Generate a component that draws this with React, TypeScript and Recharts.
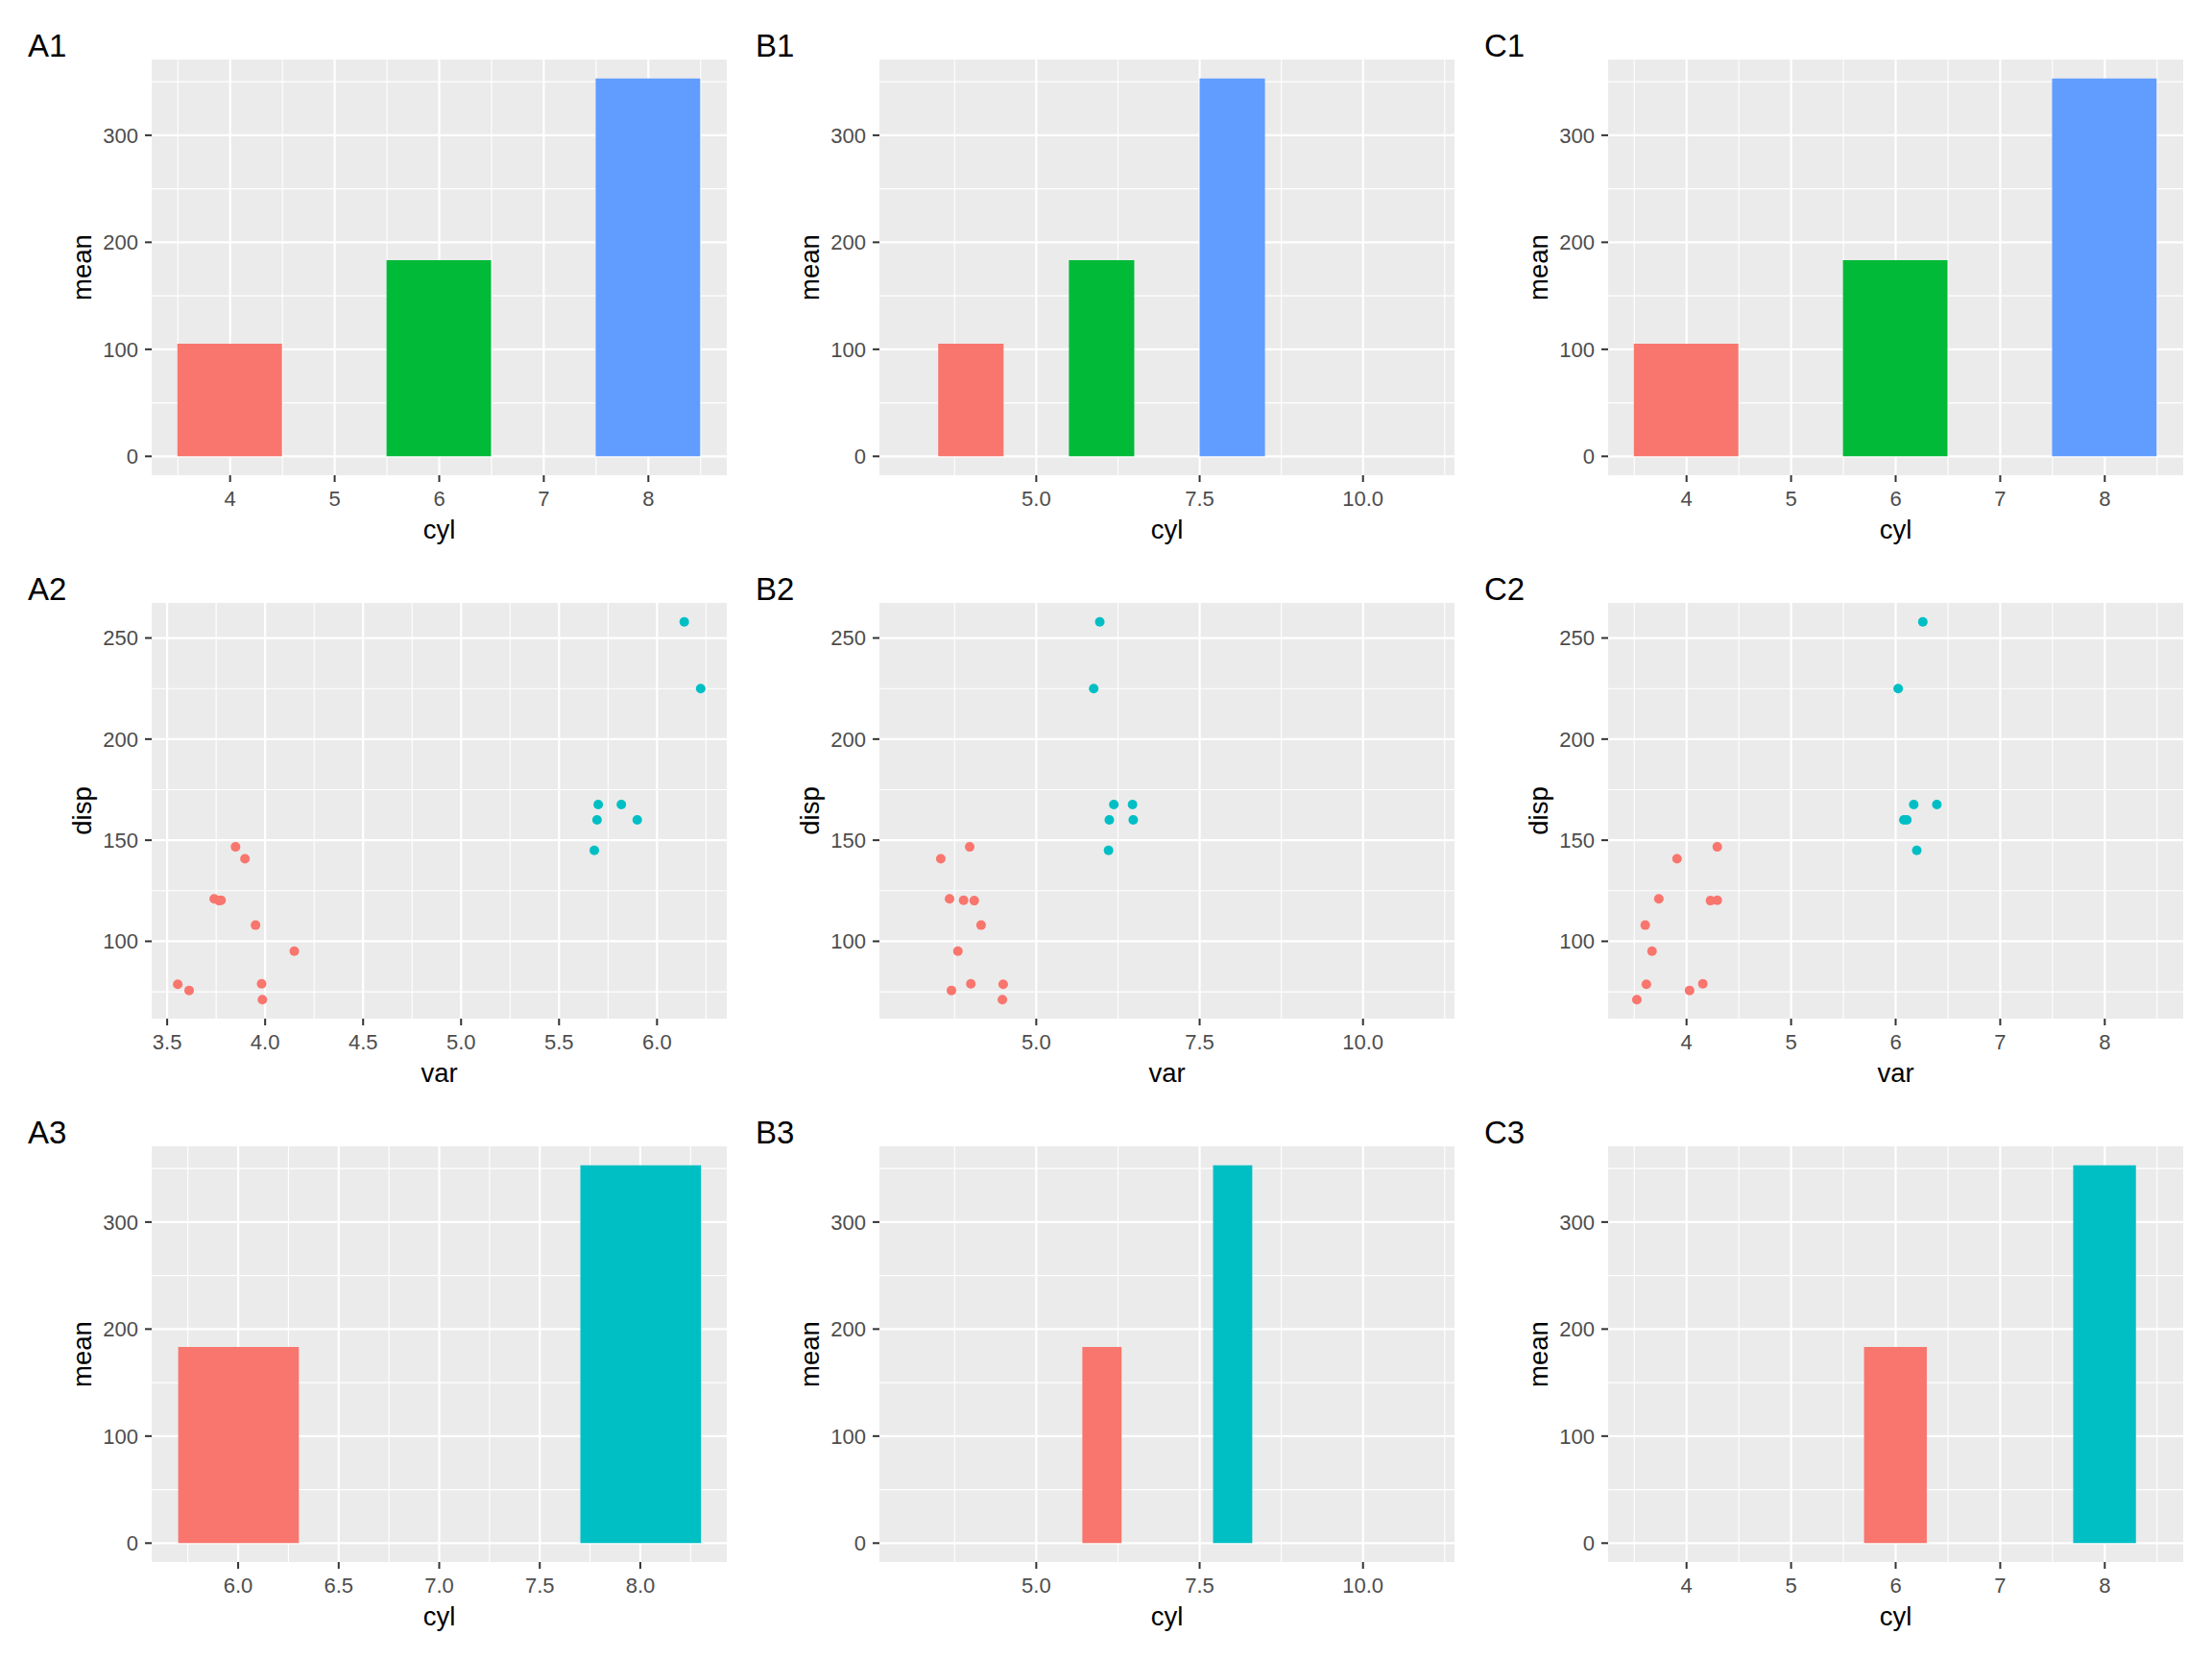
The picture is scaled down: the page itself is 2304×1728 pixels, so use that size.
import React from 'react';
import { ComposedChart, ScatterChart, Bar, Scatter, Cell, XAxis, YAxis, CartesianGrid } from 'recharts';

// mean disp by cyl (mtcars)
const cylAll = [4, 6, 8];
const meanAll = [105.14, 183.31, 353.1];
const cylSub = [6, 8];
const meanSub = [183.31, 353.1];

// disp values of the 4- and 6-cylinder cars
const disp4 = [146.7, 140.8, 121.0, 120.3, 120.1, 108.0, 95.1, 78.7, 79.0, 75.7, 71.1];
const disp6 = [167.6, 167.6, 160.0, 160.0, 145.0, 258.0, 225.0];

// jittered "var" for each panel, same order as disp4 / disp6
const varA4 = [3.849, 3.897, 3.740, 3.775, 3.765, 3.951, 4.149, 3.554, 3.982, 3.612, 3.986];
const varA6 = [5.700, 5.818, 5.694, 5.899, 5.680, 6.139, 6.223];
const varB4 = [3.981, 3.539, 3.673, 3.888, 4.051, 4.156, 3.801, 4.494, 3.999, 3.702, 4.482];
const varB6 = [6.187, 6.473, 6.118, 6.484, 6.106, 5.972, 5.879];
const varC4 = [4.294, 3.909, 3.735, 4.294, 4.229, 3.605, 3.670, 3.616, 4.156, 4.029, 3.525];
const varC6 = [6.173, 6.394, 6.078, 6.107, 6.202, 6.260, 6.024];

// ticks
const ticksCylInt = [4, 5, 6, 7, 8];
const minorCylInt = [3.5, 4.5, 5.5, 6.5, 7.5, 8.5];
const ticksWide = [5, 7.5, 10];
const minorWide = [3.75, 6.25, 8.75, 11.25];
const ticksVarA = [3.5, 4, 4.5, 5, 5.5, 6];
const minorVarA = [3.75, 4.25, 4.75, 5.25, 5.75, 6.25];
const ticksCylA3 = [6, 6.5, 7, 7.5, 8];
const minorCylA3 = [5.75, 6.25, 6.75, 7.25, 7.75, 8.25];
const ticksMean = [0, 100, 200, 300];
const minorMean = [50, 150, 250, 350];
const ticksDisp = [100, 150, 200, 250];
const minorDisp = [75, 125, 175, 225];

const RED = '#F8766D';
const GREEN = '#00BA38';
const BLUE = '#619CFF';
const TEAL = '#00BFC4';
const FONT = '"Liberation Sans", Arial, Helvetica, sans-serif';

const COL_X = [158, 916, 1675];
const ROW_Y = [62, 628, 1194];
const PANEL_W = 599;
const PANEL_H = 433;
const Y_AXIS_W = 60;
const X_AXIS_H = 50;

const meanDomain = [-17.655, 370.755];
const dispDomain = [61.755, 267.345];
const wideDomain = [2.6, 11.4];
const intDomain = [3.25, 8.75];

const one = (v: number) => v.toFixed(1);
const plain = (v: number) => String(v);

const pts = (xs: number[], ys: number[]) => xs.map((x, i) => ({ x, y: ys[i] }));

type PanelDef = {
  tag: string;
  col: number;
  row: number;
  kind: 'bar' | 'scatter';
  xDomain: number[];
  xTicks: number[];
  xMinor: number[];
  xFmt: (v: number) => string;
  yDomain: number[];
  yTicks: number[];
  yMinor: number[];
  xLabel: string;
  yLabel: string;
  cyl?: number[];
  mean?: number[];
  colors?: string[];
  barWidth?: number;
  x4?: number[];
  x6?: number[];
};

const panels: PanelDef[] = [
  { tag: 'A1', col: 0, row: 0, kind: 'bar', xDomain: intDomain, xTicks: ticksCylInt, xMinor: minorCylInt, xFmt: plain,
    yDomain: meanDomain, yTicks: ticksMean, yMinor: minorMean, xLabel: 'cyl', yLabel: 'mean',
    cyl: cylAll, mean: meanAll, colors: [RED, GREEN, BLUE], barWidth: 1 },
  { tag: 'B1', col: 1, row: 0, kind: 'bar', xDomain: wideDomain, xTicks: ticksWide, xMinor: minorWide, xFmt: one,
    yDomain: meanDomain, yTicks: ticksMean, yMinor: minorMean, xLabel: 'cyl', yLabel: 'mean',
    cyl: cylAll, mean: meanAll, colors: [RED, GREEN, BLUE], barWidth: 1 },
  { tag: 'C1', col: 2, row: 0, kind: 'bar', xDomain: intDomain, xTicks: ticksCylInt, xMinor: minorCylInt, xFmt: plain,
    yDomain: meanDomain, yTicks: ticksMean, yMinor: minorMean, xLabel: 'cyl', yLabel: 'mean',
    cyl: cylAll, mean: meanAll, colors: [RED, GREEN, BLUE], barWidth: 1 },
  { tag: 'A2', col: 0, row: 1, kind: 'scatter', xDomain: [3.421, 6.356], xTicks: ticksVarA, xMinor: minorVarA, xFmt: one,
    yDomain: dispDomain, yTicks: ticksDisp, yMinor: minorDisp, xLabel: 'var', yLabel: 'disp', x4: varA4, x6: varA6 },
  { tag: 'B2', col: 1, row: 1, kind: 'scatter', xDomain: wideDomain, xTicks: ticksWide, xMinor: minorWide, xFmt: one,
    yDomain: dispDomain, yTicks: ticksDisp, yMinor: minorDisp, xLabel: 'var', yLabel: 'disp', x4: varB4, x6: varB6 },
  { tag: 'C2', col: 2, row: 1, kind: 'scatter', xDomain: intDomain, xTicks: ticksCylInt, xMinor: minorCylInt, xFmt: plain,
    yDomain: dispDomain, yTicks: ticksDisp, yMinor: minorDisp, xLabel: 'var', yLabel: 'disp', x4: varC4, x6: varC6 },
  { tag: 'A3', col: 0, row: 2, kind: 'bar', xDomain: [5.57, 8.43], xTicks: ticksCylA3, xMinor: minorCylA3, xFmt: one,
    yDomain: meanDomain, yTicks: ticksMean, yMinor: minorMean, xLabel: 'cyl', yLabel: 'mean',
    cyl: cylSub, mean: meanSub, colors: [RED, TEAL], barWidth: 0.6 },
  { tag: 'B3', col: 1, row: 2, kind: 'bar', xDomain: wideDomain, xTicks: ticksWide, xMinor: minorWide, xFmt: one,
    yDomain: meanDomain, yTicks: ticksMean, yMinor: minorMean, xLabel: 'cyl', yLabel: 'mean',
    cyl: cylSub, mean: meanSub, colors: [RED, TEAL], barWidth: 0.6 },
  { tag: 'C3', col: 2, row: 2, kind: 'bar', xDomain: intDomain, xTicks: ticksCylInt, xMinor: minorCylInt, xFmt: plain,
    yDomain: meanDomain, yTicks: ticksMean, yMinor: minorMean, xLabel: 'cyl', yLabel: 'mean',
    cyl: cylSub, mean: meanSub, colors: [RED, TEAL], barWidth: 0.6 },
];

const tickStyle = { fill: '#4D4D4D', fontSize: 22, fontFamily: FONT };
const tickLine = { stroke: '#333333', strokeWidth: 2 };

const Dot = (color: string) => (p: any) => <circle cx={p.cx} cy={p.cy} r={5} fill={color} />;

function Panel({ d }: { d: PanelDef }) {
  const w = Y_AXIS_W + PANEL_W;
  const h = PANEL_H + X_AXIS_H;
  const style: React.CSSProperties = {
    position: 'absolute',
    left: COL_X[d.col] - Y_AXIS_W,
    top: ROW_Y[d.row],
    width: w,
    height: h,
  };

  const axes = [
    <CartesianGrid key="gmin" fill="#EBEBEB" stroke="#FFFFFF" strokeWidth={1.1}
      horizontalValues={d.yMinor} verticalValues={d.xMinor} />,
    <CartesianGrid key="gmaj" stroke="#FFFFFF" strokeWidth={2.2}
      horizontalValues={d.yTicks} verticalValues={d.xTicks} />,
    <XAxis key="x" type="number" dataKey={d.kind === 'bar' ? 'cyl' : 'x'} domain={d.xDomain} allowDataOverflow
      ticks={d.xTicks} interval={0} tickFormatter={d.xFmt} axisLine={false} tickLine={tickLine}
      tickSize={7} tickMargin={9} tick={tickStyle} height={X_AXIS_H} />,
    <YAxis key="y" type="number" dataKey={d.kind === 'bar' ? 'mean' : 'y'} domain={d.yDomain} allowDataOverflow
      ticks={d.yTicks} interval={0} axisLine={false} tickLine={tickLine}
      tickSize={7} tickMargin={7} tick={tickStyle} width={Y_AXIS_W} />,
  ];

  if (d.kind === 'bar') {
    const data = d.cyl!.map((c, i) => ({ cyl: c, mean: d.mean![i] }));
    const barSize = (d.barWidth! / (d.xDomain[1] - d.xDomain[0])) * PANEL_W;
    return (
      <div style={style}>
        <ComposedChart width={w} height={h} data={data} margin={{ top: 0, right: 0, bottom: 0, left: 0 }}>
          {axes}
          <Bar dataKey="mean" barSize={barSize} isAnimationActive={false}>
            {data.map((_, i) => (
              <Cell key={i} fill={d.colors![i]} />
            ))}
          </Bar>
        </ComposedChart>
      </div>
    );
  }

  return (
    <div style={style}>
      <ScatterChart width={w} height={h} margin={{ top: 0, right: 0, bottom: 0, left: 0 }}>
        {axes}
        <Scatter data={pts(d.x4!, disp4)} fill={RED} shape={Dot(RED)} isAnimationActive={false} />
        <Scatter data={pts(d.x6!, disp6)} fill={TEAL} shape={Dot(TEAL)} isAnimationActive={false} />
      </ScatterChart>
    </div>
  );
}

export default function App() {
  return (
    <div style={{ position: 'absolute', left: 0, top: 0, width: 2304, height: 1728, background: '#FFFFFF', fontFamily: FONT }}>
      {panels.map((d) => (
        <Panel key={d.tag} d={d} />
      ))}
      <svg width={2304} height={1728} style={{ position: 'absolute', left: 0, top: 0, pointerEvents: 'none' }}>
        {panels.map((d) => {
          const px = COL_X[d.col];
          const py = ROW_Y[d.row];
          return (
            <g key={d.tag} fontFamily={FONT} fill="#000000">
              <text x={px - 129} y={py - 3} fontSize={33}>{d.tag}</text>
              <text x={px + PANEL_W / 2} y={py + PANEL_H + 66} fontSize={27.5} textAnchor="middle">{d.xLabel}</text>
              <text x={px - 63} y={py + PANEL_H / 2} fontSize={27.5} textAnchor="middle"
                transform={`rotate(-90 ${px - 63} ${py + PANEL_H / 2})`}>{d.yLabel}</text>
            </g>
          );
        })}
      </svg>
    </div>
  );
}
